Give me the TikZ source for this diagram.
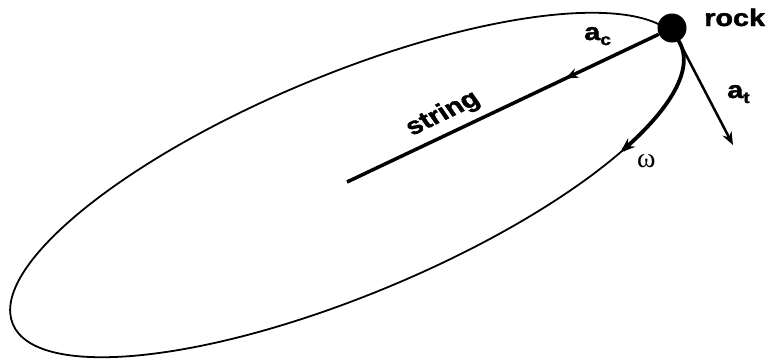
\documentclass[tikz,border=0pt]{standalone}
\usepackage{fontspec}
\setmainfont{Liberation Sans}[BoldFeatures={FakeBold=1.6}]
\newfontfamily\omegafont{Liberation Serif}
\usetikzlibrary{arrows.meta,decorations.markings}
\begin{document}
\begin{tikzpicture}[x=1pt,y=1pt,
  lbl/.style={font=\bfseries\fontsize{24}{24}\selectfont, inner sep=0pt, xscale=1.2},
  tipsmall/.tip={Stealth[length=13pt,width=10pt]},
  orbit/.style={line width=1.8pt},
  shiftrot/.style={shift={(347,-185)}, rotate=22.6}]
\useasboundingbox (0,0) rectangle (766,-362);
\coordinate (C) at (347,-182);
% orbit
\draw[orbit, shiftrot] (0,0) ellipse [x radius=362pt, y radius=110pt];
% thick arc with omega arrow
\draw[line width=3.8pt, -{Stealth[length=15pt,width=11pt]}, shiftrot]
  plot[domain=6:-43, samples=60] ({362*cos(\x)},{110*sin(\x)});
% rock
\node[circle, fill, inner sep=0pt, minimum size=29pt] (rock) at (672,-28) {};
% string
\draw[line width=3.5pt, postaction={decorate},
  decoration={markings, mark=at position 0.3 with {\arrow{tipsmall}}}] (rock) -- (C);
% tangential acceleration
\coordinate (at) at (733,-145);
\draw[line width=2.5pt, -{tipsmall}] (rock) -- (at);
% labels
\node[lbl, anchor=base west] (rocklbl) at (704,-26) {rock};
\node[lbl, anchor=base west] (aclbl) at (584,-40) {a\raisebox{-5pt}{\fontsize{16}{16}\selectfont c}};
\node[lbl, anchor=base west] (atlbl) at (727,-98) {a\raisebox{-5pt}{\fontsize{16}{16}\selectfont t}};
\node[lbl, rotate=30] (stringlbl) at (443,-114) {string};
\node[inner sep=0pt, anchor=base west, font=\omegafont\fontsize{28}{28}\selectfont] (omegalbl) at (637,-167) {ω};
\end{tikzpicture}
\end{document}
